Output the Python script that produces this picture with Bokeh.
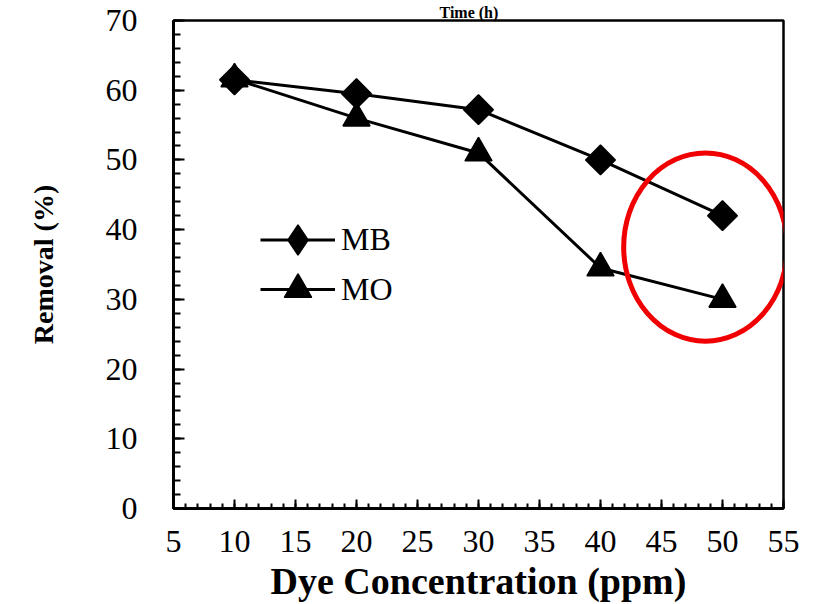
import math
from bokeh.plotting import figure
from bokeh.models import (SingleIntervalTicker, Range1d, Legend, LegendItem, Title,
                          ColumnDataSource)
from bokeh.embed import file_html
from bokeh.resources import INLINE

# Dye concentration (ppm) and removal (%)
concentration = [10, 20, 30, 40, 50]
removal_mb = [61.5, 59.5, 57.2, 50.0, 42.0]
removal_mo = [61.6, 56.0, 51.0, 34.5, 30.0]

# Highlight ring around the highest concentration
ring_x = [48.6]
ring_y = [37.5]
ring_w = [13.4]
ring_h = [27.0]

SERIF = "Liberation Serif"

p = figure(width=828, height=604, output_backend="svg", toolbar_location=None,
           x_range=Range1d(5, 55), y_range=Range1d(0, 70),
           min_border_left=173, min_border_right=45,
           min_border_top=20, min_border_bottom=94)

p.add_layout(Title(text="Time (h)", text_font=SERIF, text_font_style="bold",
                   text_font_size="16px", text_color="black", align="left",
                   standoff=0, offset=266), "above")

p.xgrid.visible = False
p.ygrid.visible = False
p.outline_line_color = "black"
p.outline_line_width = 2.5
p.background_fill_color = "white"
p.border_fill_color = "white"

p.xaxis.ticker = SingleIntervalTicker(interval=5, num_minor_ticks=5)
p.yaxis.ticker = SingleIntervalTicker(interval=10, num_minor_ticks=5)

for ax in (p.xaxis[0], p.yaxis[0]):
    ax.axis_line_color = "black"
    ax.axis_line_width = 3
    ax.major_tick_line_color = "black"
    ax.minor_tick_line_color = "black"
    ax.major_tick_line_width = 2
    ax.minor_tick_line_width = 2
    ax.major_tick_out = 0
    ax.minor_tick_out = 0
    ax.major_label_text_font = SERIF
    ax.major_label_text_font_size = "32px"
    ax.major_label_text_color = "black"
    ax.axis_label_text_font = SERIF
    ax.axis_label_text_font_style = "bold"
    ax.axis_label_text_color = "black"

p.xaxis.major_tick_in = 9
p.xaxis.minor_tick_in = 5
p.yaxis.major_tick_in = 11
p.yaxis.minor_tick_in = 7

p.xaxis.axis_label = "Dye Concentration (ppm)"
p.xaxis.axis_label_text_font_size = "38px"
p.xaxis.major_label_standoff = 22
p.xaxis.axis_label_standoff = 5

p.yaxis.axis_label = "Removal (%)"
p.yaxis.axis_label_text_font_size = "28px"
p.yaxis.major_label_standoff = 36
p.yaxis.axis_label_standoff = 44

src = ColumnDataSource(dict(x=concentration, mb=removal_mb, mo=removal_mo))

mb_line = p.line("x", "mb", source=src, line_color="black", line_width=3)
# Diamond key used by the legend; it sits under the rotated square markers
mb_key = p.scatter("x", "mb", source=src, marker="diamond", size=18,
                   fill_color="black", line_color="black", line_width=1.5)
mb_pts = p.scatter("x", "mb", source=src, marker="square", angle=math.pi / 4,
                   size=21, fill_color="black", line_color="black", line_width=1.5)

mo_line = p.line("x", "mo", source=src, line_color="black", line_width=3)
mo_pts = p.scatter("x", "mo", source=src, marker="triangle", size=27,
                   fill_color="black", line_color="black", line_width=1.5)

p.ellipse(x=ring_x, y=ring_y, width=ring_w, height=ring_h,
          fill_color=None, line_color="#f00000", line_width=5)

legend_style = dict(orientation="vertical", glyph_width=75, label_standoff=6,
                    padding=0, margin=0, spacing=0,
                    label_text_font=SERIF, label_text_font_size="32px",
                    label_text_color="black",
                    border_line_alpha=0, background_fill_alpha=0)

legend_mb = Legend(items=[LegendItem(label="MB", renderers=[mb_line, mb_key])],
                   location=(87, 231), glyph_height=75, **legend_style)
legend_mo = Legend(items=[LegendItem(label="MO", renderers=[mo_line, mo_pts])],
                   location=(87, 185), glyph_height=68, **legend_style)
p.add_layout(legend_mb, "center")
p.add_layout(legend_mo, "center")

open("out.html", "w").write(file_html(p, INLINE))
